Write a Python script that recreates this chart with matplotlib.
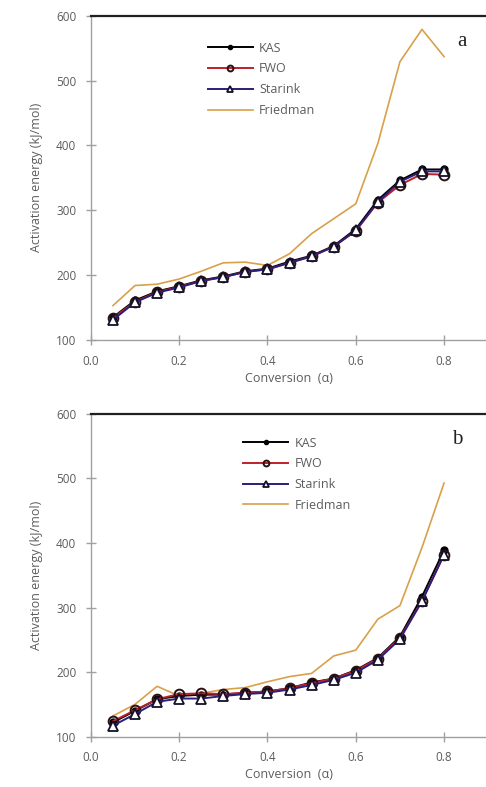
import matplotlib
matplotlib.use("Agg")
import matplotlib.pyplot as plt

# conversion values (alpha)
alpha = [0.05, 0.10, 0.15, 0.20, 0.25, 0.30, 0.35, 0.40,
         0.45, 0.50, 0.55, 0.60, 0.65, 0.70, 0.75, 0.80]

# panel a
kas_a = [135, 161, 175, 183, 192, 198, 206, 210, 221, 230, 245, 271, 316, 346, 363, 363]
fwo_a = [134, 159, 174, 182, 191, 197, 205, 209, 219, 229, 244, 268, 312, 339, 356, 355]
sta_a = [131, 158, 173, 181, 191, 197, 205, 209, 219, 229, 244, 269, 313, 344, 360, 360]
fri_a = [153, 184, 186, 194, 206, 219, 220, 215, 233, 264, 287, 310, 403, 529, 579, 537]

# panel b
kas_b = [122, 140, 158, 163, 165, 165, 168, 170, 175, 184, 190, 203, 222, 255, 317, 389]
fwo_b = [124, 141, 158, 166, 167, 166, 168, 170, 175, 183, 190, 202, 221, 253, 310, 382]
sta_b = [117, 135, 154, 159, 159, 163, 166, 168, 173, 180, 188, 199, 219, 251, 310, 382]
fri_b = [132, 150, 178, 163, 167, 173, 176, 185, 193, 198, 225, 234, 282, 303, 393, 493]

plt.rcParams['font.family'] = ['Open Sans', 'DejaVu Sans']
grey = '#5c5c5c'

fig = plt.figure(figsize=(4.86, 7.87), dpi=100)
ax1 = fig.add_axes([0.187, 0.568, 0.813, 0.412])
ax2 = fig.add_axes([0.187, 0.064, 0.813, 0.410])


def draw(ax, kas, fwo, sta, fri, letter, leg_anchor):
    ax.plot(alpha, kas, color='black', lw=1.4, marker='o', ms=5,
            mfc='black', mec='black', label='KAS', zorder=3)
    ax.plot(alpha, fwo, color='#c0202a', lw=1.4, marker='o', ms=7,
            mfc='none', mec='#2a1010', mew=1.4, label='FWO', zorder=4)
    ax.plot(alpha, sta, color='#2a1f7a', lw=1.4, marker='^', ms=7,
            mfc='white', mec='#15102a', mew=1.3, label='Starink', zorder=5)
    ax.plot(alpha, fri, color='#d9a04a', lw=1.2, label='Friedman', zorder=2)

    ax.set_xlim(0, 0.895)
    ax.set_ylim(100, 600)
    ax.set_xticks([0.0, 0.2, 0.4, 0.6, 0.8])
    ax.set_xticklabels(['0.0', '0.2', '0.4', '0.6', '0.8'])
    ax.set_yticks([100, 200, 300, 400, 500, 600])

    for s in ['left', 'bottom']:
        ax.spines[s].set_color('#a0a0a0')
        ax.spines[s].set_linewidth(1.0)
    ax.spines['right'].set_visible(False)
    ax.spines['top'].set_color('#202020')
    ax.spines['top'].set_linewidth(1.6)

    ax.tick_params(direction='inout', length=7, width=1.0, color='#a0a0a0',
                   labelsize=8.5, labelcolor=grey)
    ax.tick_params(axis='y', pad=7)
    ax.tick_params(axis='x', pad=7)
    ax.set_xlabel('Conversion  (\u03b1)', fontsize=9, color=grey, labelpad=3)
    ax.set_ylabel('Activation energy (kJ/mol)', fontsize=9, color=grey, labelpad=9)

    ax.text(letter[1], 560, letter[0], fontsize=15, family='Liberation Serif',
            color='#222222', ha='center', va='center')

    leg = ax.legend(loc='upper left', bbox_to_anchor=leg_anchor, frameon=False,
                    fontsize=9, handlelength=3.6, handletextpad=0.5,
                    labelspacing=0.62, borderaxespad=0, borderpad=0,
                    markerscale=0.6)
    for t in leg.get_texts():
        t.set_color(grey)


draw(ax1, kas_a, fwo_a, sta_a, fri_a, ('a', 0.841), (0.296, 0.92))
draw(ax2, kas_b, fwo_b, sta_b, fri_b, ('b', 0.83), (0.385, 0.93))

fig.savefig('out.png', dpi=100)
